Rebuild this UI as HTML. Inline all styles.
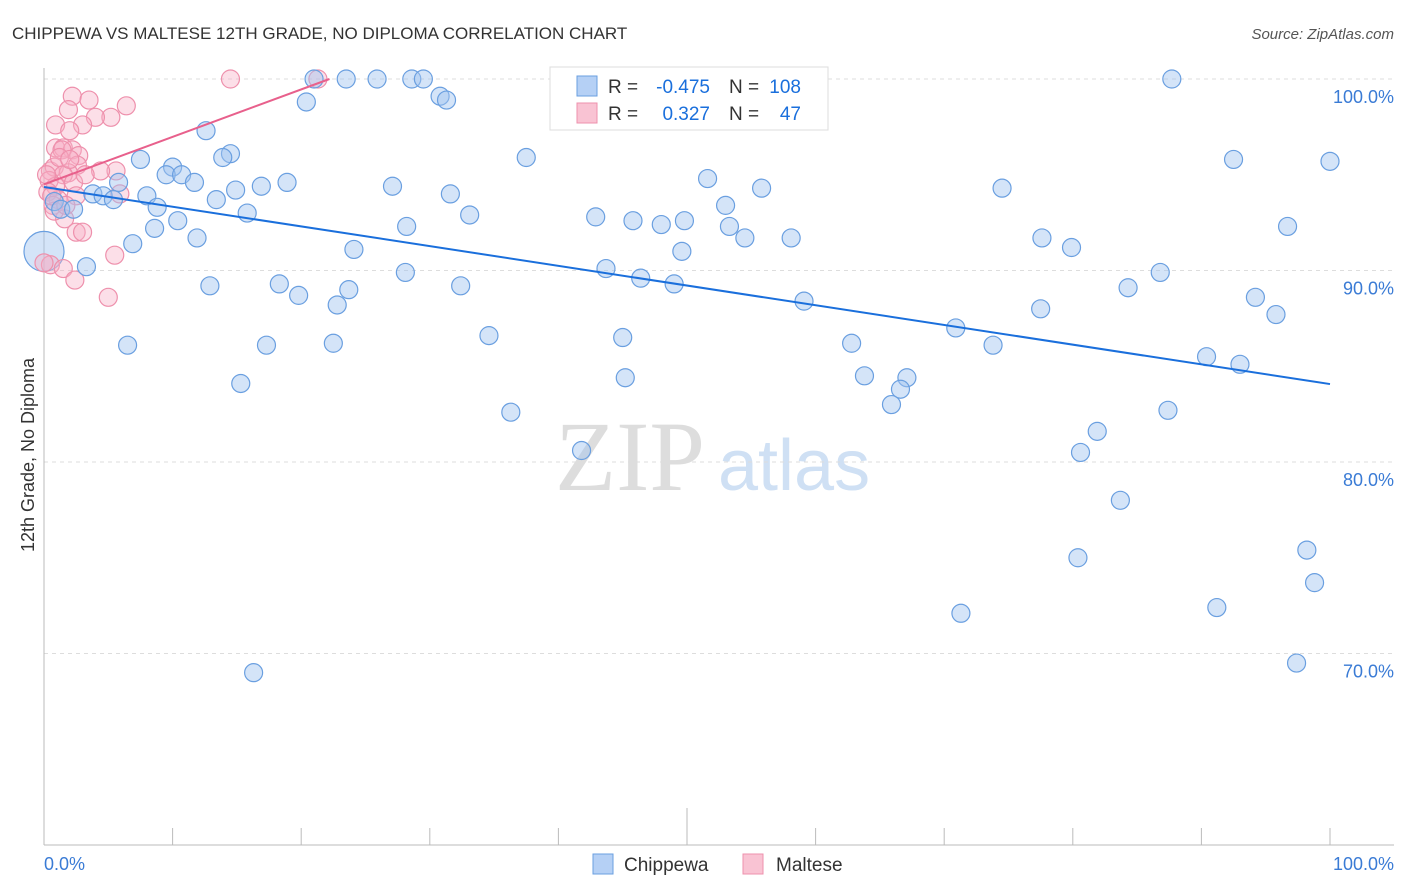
<!DOCTYPE html>
<html><head><meta charset="utf-8"><style>
body{margin:0;background:#fff;font-family:"Liberation Sans",sans-serif}
svg{display:block}
</style></head><body>
<svg id="c" width="1406" height="892">
<text x="12" y="39" font-size="17" fill="#333">CHIPPEWA VS MALTESE 12TH GRADE, NO DIPLOMA CORRELATION CHART</text>
<text x="1394" y="39" font-size="15" fill="#555" font-style="italic" text-anchor="end">Source: ZipAtlas.com</text>
<text x="34" y="455" font-size="18" fill="#333" transform="rotate(-90 34 455)" text-anchor="middle">12th Grade, No Diploma</text>
<g><text x="555" y="490" font-family="Liberation Serif,serif" font-size="100" fill="#ddd">ZIP</text><text x="718" y="490" font-size="72" fill="#cfe0f4">atlas</text></g>
<g id="grid"></g><g id="marks"></g>
<g>
<rect x="550" y="67" width="278" height="63" fill="#fff" stroke="#ddd"/>
<rect x="577" y="76" width="20" height="20" fill="#b5d0f5" stroke="#6a9fe0"/>
<rect x="577" y="103" width="20" height="20" fill="#f9c3d3" stroke="#ee90ac"/>
<text x="608" y="93" font-size="19" fill="#333">R =</text>
<text x="710" y="93" font-size="19" fill="#1a6fdc" text-anchor="end">-0.475</text>
<text x="729" y="93" font-size="19" fill="#333">N =</text>
<text x="801" y="93" font-size="19" fill="#1a6fdc" text-anchor="end">108</text>
<text x="608" y="120" font-size="19" fill="#333">R =</text>
<text x="710" y="120" font-size="19" fill="#1a6fdc" text-anchor="end">0.327</text>
<text x="729" y="120" font-size="19" fill="#333">N =</text>
<text x="801" y="120" font-size="19" fill="#1a6fdc" text-anchor="end">47</text>
</g>
<g>
<rect x="593" y="854" width="20" height="20" fill="#b5d0f5" stroke="#6a9fe0"/>
<text x="624" y="871" font-size="19" fill="#333">Chippewa</text>
<rect x="743" y="854" width="20" height="20" fill="#f9c3d3" stroke="#ee90ac"/>
<text x="776" y="871" font-size="19" fill="#333">Maltese</text>
</g>
<text x="44" y="870" font-size="18" fill="#3a7bd5">0.0%</text>
<text x="1394" y="870" font-size="18" fill="#3a7bd5" text-anchor="end">100.0%</text>
</svg>
<script>
const yTicks=[100,90,80,70];
const blueX=[21.0,23.5,25.9,28.6,29.5,87.7,20.4,30.8,31.3,12.6,37.5,92.5,100,7.5,14.5,13.9,10.0,9.5,10.7,11.7,5.8,16.9,18.9,27.1,51.6,74.5,55.8,8.0,14.9,31.6,3.8,4.6,5.4,0.8,1.3,2.3,8.8,13.4,15.8,33.1,42.9,45.8,48.0,49.8,53.0,53.3,10.4,8.6,28.2,96.7,11.9,54.5,58.1,77.6,79.9,6.9,24.1,49.6,3.3,28.1,43.7,46.4,49.0,86.8,18.3,12.9,23.7,32.4,84.3,19.8,22.8,59.1,94.2,77.5,95.8,70.9,34.6,45.0,6.5,17.3,22.5,62.8,73.8,90.4,93.0,63.8,45.2,67.1,66.6,15.3,65.9,36.3,87.4,41.8,81.9,80.6,83.7,80.4,98.2,98.8,71.3,91.2,97.4,16.3];
const blueY=[100,100,100,100,100,100,98.8,99.1,98.9,97.3,95.9,95.8,95.7,95.8,96.1,95.9,95.4,95.0,95.0,94.6,94.6,94.4,94.6,94.4,94.8,94.3,94.3,93.9,94.2,94.0,94.0,93.9,93.7,93.6,93.2,93.2,93.3,93.7,93.0,92.9,92.8,92.6,92.4,92.6,93.4,92.3,92.6,92.2,92.3,92.3,91.7,91.7,91.7,91.7,91.2,91.4,91.1,91.0,90.2,89.9,90.1,89.6,89.3,89.9,89.3,89.2,89.0,89.2,89.1,88.7,88.2,88.4,88.6,88.0,87.7,87.0,86.6,86.5,86.1,86.1,86.2,86.2,86.1,85.5,85.1,84.5,84.4,84.4,83.8,84.1,83.0,82.6,82.7,80.6,81.6,80.5,78.0,75.0,75.4,73.7,72.1,72.4,69.5,69.0];
const blueBigX=[0], blueBigY=[91.0];
const pinkX=[14.5,21.3,2.2,3.5,6.4,1.9,5.2,4.0,3.0,0.9,2.0,0.9,1.5,2.2,2.7,1.4,0.5,0.8,2.6,5.6,1.9,1.5,2.3,0.4,0.9,5.9,2.5,0.3,1.1,0.7,1.6,2.5,3.0,0.5,1.5,5.5,2.4,5.0,0.8,1.7,0.2,1.2,4.4,0.6,0,2.0,3.2];
const pinkY=[100,100,99.1,98.9,98.6,98.4,98.0,98.0,97.6,97.6,97.3,96.4,96.4,96.3,96.0,96.3,95.2,95.4,95.5,95.2,95.1,95.0,94.6,94.7,94.4,94.0,93.9,94.1,93.7,93.4,92.7,92.0,92.0,90.3,90.1,90.8,89.5,88.6,93.1,93.4,95.0,95.9,95.2,93.9,90.4,95.8,95.0];
const blueTrend=[[0,94.36],[100,84.07]];
const pinkTrend=[[0,94.5],[22.2,100]];
const X=v=>44+v*12.86, Y=v=>79+(100-v)*19.15;
const NS="http://www.w3.org/2000/svg";
function mk(t,a,p){const e=document.createElementNS(NS,t);for(const k in a)e.setAttribute(k,a[k]);p.appendChild(e);return e;}
const g=document.getElementById('grid'), m=document.getElementById('marks');
yTicks.forEach(t=>{
 const l=mk('line',{x1:44,x2:1394,y1:Y(t),y2:Y(t),stroke:'#ddd','stroke-dasharray':'4 4'},g);
 
 
 const tx=mk('text',{x:1394,y:Y(t)+24,'font-size':18,fill:'#3a7bd5','text-anchor':'end'},g);
 tx.textContent=t.toFixed(1)+'%';
 
 
});
const ax=mk('line',{x1:44,x2:44,y1:68,y2:845,stroke:'#bbb'},g);


const bx=mk('line',{x1:44,x2:1394,y1:845,y2:845,stroke:'#bbb'},g);


for(let i=1;i<=10;i++){
 const tk=mk('line',{x1:X(i*10),x2:X(i*10),y1:i==5?808:828,y2:845,stroke:'#bbb'},g);
 
 
}
function dots(xs,ys,r,fill,stroke,name){xs.forEach((x,i)=>{
 const c=mk('circle',{cx:X(x),cy:Y(ys[i]),r:r,fill:fill,stroke:stroke,'stroke-width':1.2},m);
 
 
});}
dots(blueBigX,blueBigY,20,'rgba(160,196,240,0.45)','#6a9fe0','chippewa-point');
dots(pinkX,pinkY,9,'rgba(248,175,198,0.4)','#ee90ac','maltese-point');
dots(blueX,blueY,9,'rgba(160,196,240,0.45)','#6a9fe0','chippewa-point');
const bl=mk('line',{x1:X(blueTrend[0][0]),y1:Y(blueTrend[0][1]),x2:X(blueTrend[1][0]),y2:Y(blueTrend[1][1]),stroke:'#1a6fdc','stroke-width':2},m);


const pl=mk('line',{x1:X(pinkTrend[0][0]),y1:Y(pinkTrend[0][1]),x2:X(pinkTrend[1][0]),y2:Y(pinkTrend[1][1]),stroke:'#e8608c','stroke-width':2},m);


</script>
</body></html>
